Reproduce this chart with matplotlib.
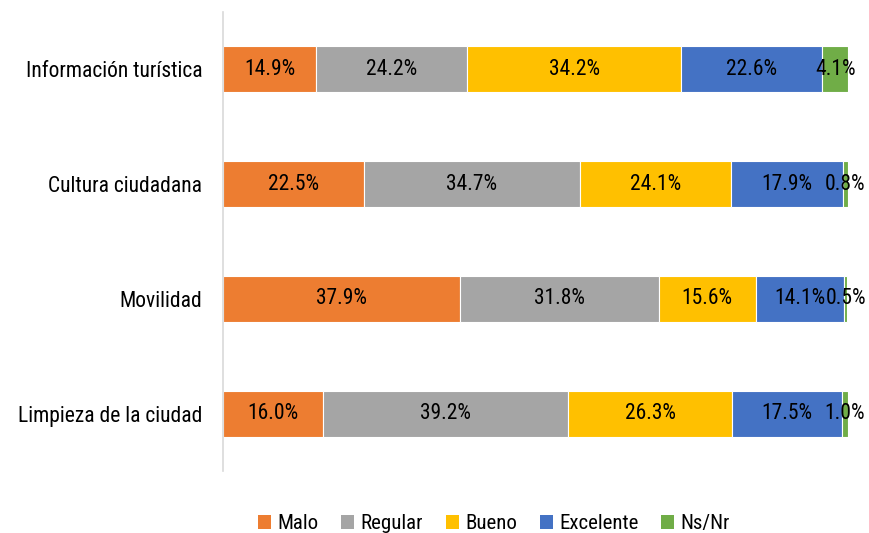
import matplotlib
matplotlib.use("Agg")
import matplotlib.pyplot as plt
from matplotlib import font_manager
from matplotlib.patches import Patch

# the original uses a condensed Arial-like face; fall back to a smaller
# regular size if no narrow family is installed
installed = {f.name for f in font_manager.fontManager.ttflist}
narrow = [n for n in ("Liberation Sans Narrow", "Arial Narrow",
                      "Roboto Condensed", "Open Sans Condensed")
          if n in installed]
if narrow:
    plt.rcParams["font.family"] = [narrow[0], "DejaVu Sans"]
    FS, FS_LEG = 15.5, 15
else:
    plt.rcParams["font.family"] = ["Liberation Sans", "DejaVu Sans"]
    FS, FS_LEG = 14, 14

categories = ["Información turística", "Cultura ciudadana", "Movilidad",
              "Limpieza de la ciudad"]
series = ["Malo", "Regular", "Bueno", "Excelente", "Ns/Nr"]
malo = [14.9, 22.5, 37.9, 16.0]
regular = [24.2, 34.7, 31.8, 39.2]
bueno = [34.2, 24.1, 15.6, 26.3]
excelente = [22.6, 17.9, 14.1, 17.5]
nsnr = [4.1, 0.8, 0.5, 1.0]
colors = ["#ED7D31", "#A5A5A5", "#FFC000", "#4472C4", "#70AD47"]

values = [malo, regular, bueno, excelente, nsnr]

fig = plt.figure(figsize=(8.69, 5.33), dpi=100)
ax = fig.add_axes([0.2566, 0.1163, 0.7192, 0.8612])

ypos = list(range(len(categories)))
left = [0.0] * len(categories)
for name, vals, col in zip(series, values, colors):
    ax.barh(ypos, vals, left=left, height=0.40, color=col,
            edgecolor="white", linewidth=0.8, label=name)
    for i, v in enumerate(vals):
        ax.text(left[i] + v / 2, i, f"{v:.1f}%", ha="center", va="center",
                fontsize=FS, color="black")
    left = [l + v for l, v in zip(left, vals)]

ax.set_xlim(0, 100)
ax.set_ylim(3.5, -0.5)
ax.set_yticks(ypos)
ax.set_yticklabels(categories, fontsize=FS)
ax.tick_params(axis="y", length=0, pad=15)
ax.set_xticks([])
for s in ("top", "right", "bottom"):
    ax.spines[s].set_visible(False)
ax.spines["left"].set_color("#D9D9D9")
ax.spines["left"].set_linewidth(1.2)

handles = [Patch(facecolor=c, edgecolor="none") for c in colors]
fig.legend(handles, series, loc="center", bbox_to_anchor=(494 / 869, 0.017),
           ncol=5, frameon=False, fontsize=FS_LEG, handlelength=0.62,
           handleheight=0.62, handletextpad=0.3, columnspacing=1.1,
           borderpad=0)

fig.savefig("out.png", dpi=100)
